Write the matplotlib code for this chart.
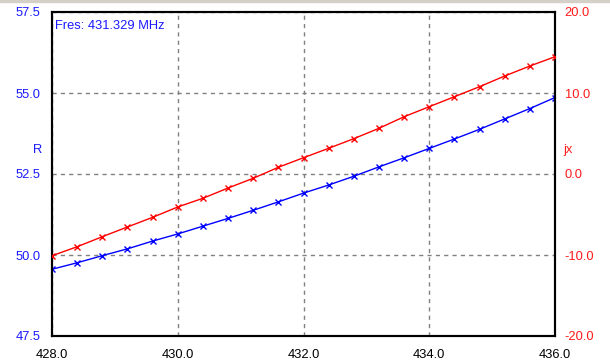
import matplotlib.pyplot as plt
from matplotlib.patches import Rectangle

plt.rcParams['font.family'] = ['Liberation Sans', 'DejaVu Sans']

# frequency, MHz
freq = [428.0, 428.4, 428.8, 429.2, 429.6, 430.0, 430.4, 430.8, 431.2, 431.6,
        432.0, 432.4, 432.8, 433.2, 433.6, 434.0, 434.4, 434.8, 435.2, 435.6, 436.0]
# resistance R
r_vals = [49.56, 49.76, 49.98, 50.19, 50.43, 50.65, 50.89, 51.13, 51.38, 51.64,
          51.91, 52.16, 52.43, 52.72, 53.00, 53.29, 53.58, 53.88, 54.20, 54.52, 54.86]
# reactance jx
jx_vals = [-10.09, -8.98, -7.74, -6.54, -5.35, -4.07, -3.00, -1.73, -0.53, 0.83,
           2.01, 3.17, 4.36, 5.64, 7.07, 8.31, 9.54, 10.78, 12.10, 13.33, 14.48]

x_ticks = [428.0, 430.0, 432.0, 434.0, 436.0]
r_ticks = [47.5, 50.0, 52.5, 55.0, 57.5]
jx_ticks = [-20.0, -10.0, 0.0, 10.0, 20.0]
fres_text = 'Fres: 431.329 MHz'

fig = plt.figure(figsize=(6.1, 3.63), dpi=100)
ax = fig.add_axes([52/610, 1-336/363, (555-52)/610, (336-12)/363])
ax2 = ax.twinx()

# thin window border strip at the top
fig.patches.append(Rectangle((0, 1-2/363), 1, 2/363, transform=fig.transFigure,
                             color='#d4d0c8', zorder=0))

ax.plot(freq, r_vals, color='#0000ff', lw=1, marker='x', ms=4, mew=1, zorder=3)
ax2.plot(freq, jx_vals, color='#ff0000', lw=1, marker='x', ms=4, mew=1, zorder=3)

ax.set_xlim(428, 436)
ax.set_ylim(47.5, 57.5)
ax2.set_ylim(-20, 20)

ax.set_xticks(x_ticks)
ax.set_xticklabels(['%.1f' % v for v in x_ticks])
ax.set_yticks(r_ticks)
ax.set_yticklabels(['%.1f' % v for v in r_ticks])
ax2.set_yticks(jx_ticks)
ax2.set_yticklabels(['%.1f' % v for v in jx_ticks])

ax.tick_params(axis='x', length=0, pad=9, labelsize=9.3, labelcolor='black')
ax.tick_params(axis='y', length=0, pad=8, labelsize=9.3, labelcolor='#1a1aff')
ax2.tick_params(axis='y', length=0, pad=7, labelsize=9.3, labelcolor='#ff1a1a')

ax.grid(True, color='#808080', ls=(0, (3, 3)), lw=1)

for a in (ax, ax2):
    for s in a.spines.values():
        s.set_linewidth(1.5)
        s.set_color('black')

fig.text(38/610, 1-150/363, 'R', color='#1a1aff', fontsize=9.3, ha='center', va='center')
fig.text(568/610, 1-150/363, 'jx', color='#ff1a1a', fontsize=9.3, ha='center', va='center')
ax.text(0.005, 0.975, fres_text, transform=ax.transAxes, color='#1a1aff',
        fontsize=9.3, ha='left', va='top')

fig.savefig('out.png', dpi=100)
